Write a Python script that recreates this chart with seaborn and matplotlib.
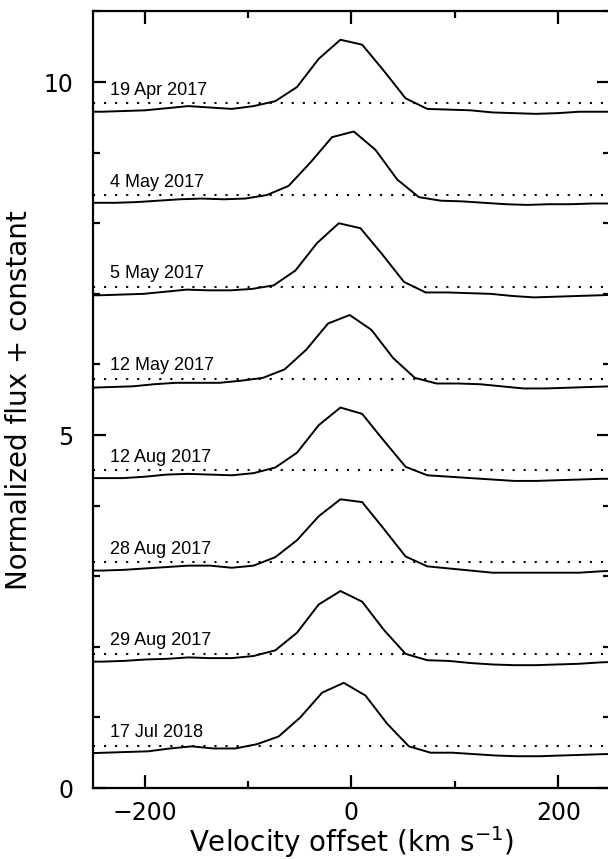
import matplotlib
matplotlib.use("Agg")
import matplotlib.pyplot as plt
from matplotlib.ticker import MultipleLocator
import numpy as np
import pandas as pd
import seaborn as sns

# ---- data -------------------------------------------------------------
dates = ["19 Apr 2017", "4 May 2017", "5 May 2017", "12 May 2017",
         "12 Aug 2017", "28 Aug 2017", "29 Aug 2017", "17 Jul 2018"]
offsets = [9.7, 8.4, 7.1, 5.8, 4.5, 3.2, 1.9, 0.6]

vel_grid_a = [-262.7, -241.7, -220.7, -199.7, -178.7, -157.7, -136.7, -115.7, -94.7,
              -73.7, -52.7, -31.7, -10.7, 10.3, 31.3, 52.3, 73.3, 94.3, 115.3,
              136.3, 157.3, 178.3, 199.3, 220.3, 241.3, 262.3]
vel_4may = [-270.8, -249.8, -228.8, -207.8, -186.8, -165.8, -144.8, -123.8, -102.8,
            -81.8, -60.8, -39.8, -18.8, 2.2, 23.2, 44.2, 65.2, 86.2, 107.2, 128.2,
            149.2, 170.2, 191.2, 212.2, 233.2, 254.2]
vel_5may = [-264.3, -243.3, -222.3, -201.3, -180.3, -159.3, -138.3, -117.3, -96.3,
            -75.3, -54.3, -33.3, -12.3, 8.7, 29.7, 50.7, 71.7, 92.7, 113.7, 134.7,
            155.7, 176.7, 197.7, 218.7, 239.7, 260.7]
vel_12may = [-253.7, -232.7, -211.7, -190.7, -169.7, -148.7, -127.7, -106.7, -85.7,
             -64.7, -43.7, -22.7, -1.7, 19.3, 40.3, 61.3, 82.3, 103.3, 124.3, 145.3,
             166.3, 187.3, 208.3, 229.3, 250.3, 271.3]
vel_17jul = [-259.5, -238.5, -217.5, -196.5, -175.5, -154.5, -133.5, -112.5, -91.5,
             -70.5, -49.5, -28.5, -7.5, 13.5, 34.5, 55.5, 76.5, 97.5, 118.5, 139.5,
             160.5, 181.5, 202.5, 223.5, 244.5, 265.5]

flux_19apr = [-0.12, -0.12, -0.11, -0.10, -0.07, -0.04, -0.06, -0.08, -0.04, 0.03, 0.23,
              0.63, 0.90, 0.83, 0.46, 0.07, -0.08, -0.09, -0.10, -0.13, -0.14, -0.15,
              -0.14, -0.12, -0.12, -0.12]
flux_4may = [-0.11, -0.11, -0.11, -0.10, -0.08, -0.06, -0.05, -0.06, -0.05, 0.00, 0.13,
             0.46, 0.82, 0.90, 0.64, 0.22, -0.03, -0.08, -0.09, -0.11, -0.13, -0.14,
             -0.13, -0.13, -0.12, -0.12]
flux_5may = [-0.12, -0.12, -0.11, -0.10, -0.07, -0.04, -0.05, -0.05, -0.03, 0.02, 0.23,
             0.62, 0.90, 0.83, 0.46, 0.07, -0.08, -0.08, -0.09, -0.10, -0.13, -0.15,
             -0.14, -0.13, -0.12, -0.11]
flux_12may = [-0.13, -0.12, -0.11, -0.08, -0.06, -0.06, -0.06, -0.03, 0.01, 0.13, 0.41,
              0.78, 0.90, 0.69, 0.29, 0.01, -0.07, -0.07, -0.08, -0.11, -0.14, -0.14,
              -0.13, -0.12, -0.11, -0.11]
flux_12aug = [-0.11, -0.11, -0.11, -0.09, -0.06, -0.05, -0.06, -0.07, -0.04, 0.04, 0.25,
              0.64, 0.89, 0.80, 0.42, 0.05, -0.07, -0.09, -0.11, -0.13, -0.15, -0.15,
              -0.14, -0.13, -0.12, -0.12]
flux_28aug = [-0.12, -0.12, -0.11, -0.09, -0.07, -0.05, -0.05, -0.08, -0.05, 0.07, 0.31,
              0.65, 0.89, 0.85, 0.47, 0.08, -0.06, -0.09, -0.12, -0.15, -0.15, -0.15,
              -0.15, -0.15, -0.13, -0.12]
flux_29aug = [-0.11, -0.11, -0.10, -0.08, -0.07, -0.05, -0.06, -0.06, -0.03, 0.05, 0.30,
              0.70, 0.89, 0.74, 0.34, 0.00, -0.09, -0.10, -0.13, -0.15, -0.16, -0.16,
              -0.15, -0.14, -0.12, -0.11]
flux_17jul = [-0.11, -0.10, -0.09, -0.08, -0.04, -0.01, -0.04, -0.04, 0.02, 0.13, 0.40,
              0.75, 0.89, 0.71, 0.31, -0.01, -0.10, -0.10, -0.12, -0.14, -0.15, -0.15,
              -0.14, -0.13, -0.12, -0.12]

velocities = [vel_grid_a, vel_4may, vel_5may, vel_12may,
              vel_grid_a, vel_grid_a, vel_grid_a, vel_17jul]
fluxes = [flux_19apr, flux_4may, flux_5may, flux_12may,
          flux_12aug, flux_28aug, flux_29aug, flux_17jul]

x_ticks_major = [-200, 0, 200]
y_ticks_major = [0, 5, 10]

# ---- build table --------------------------------------------------------
rows = []
for d, off, vv, ff in zip(dates, offsets, velocities, fluxes):
    for v, f in zip(vv, ff):
        rows.append({"date": d, "velocity": v, "flux": f + off})
df = pd.DataFrame(rows)

# ---- plot ----------------------------------------------------------------
sns.set_style("ticks")
plt.rcParams["font.family"] = ["DejaVu Sans"]
plt.rcParams["text.color"] = "black"
plt.rcParams["axes.labelcolor"] = "black"
plt.rcParams["xtick.color"] = "black"
plt.rcParams["ytick.color"] = "black"

fig = plt.figure(figsize=(6.08, 8.59), dpi=100)
ax = fig.add_axes([93 / 608, 71 / 859, 517 / 608, 776.5 / 859])

sns.lineplot(data=df, x="velocity", y="flux", units="date", estimator=None,
             color="black", linewidth=1.4, sort=False, ax=ax, legend=False)

for d, off in zip(dates, offsets):
    ax.plot([-250, 250], [off, off], color="black", linewidth=1.5,
            linestyle=(0, (1, 4.3)))
    ax.text(-234, off + 0.12, d, fontsize=13, family="Liberation Sans",
            ha="left", va="baseline", color="black")

ax.set_xlim(-250, 250)
ax.set_ylim(0, 11)
ax.set_xticks(x_ticks_major)
ax.set_yticks(y_ticks_major)
ax.set_xticklabels(["\u2212200", "0", "200"])
ax.xaxis.set_minor_locator(MultipleLocator(100))
ax.yaxis.set_minor_locator(MultipleLocator(1))

ax.tick_params(which="both", direction="in", top=True, right=True,
               width=1.6, color="black", labelcolor="black")
ax.tick_params(which="major", length=9.5, labelsize=17, pad=14)
ax.tick_params(which="minor", length=5)
ax.tick_params(axis="x", which="major", pad=9)

for s in ax.spines.values():
    s.set_linewidth(1.6)
    s.set_color("black")

ax.set_xlabel("Velocity offset (km s$^{-1}$)", fontsize=20, labelpad=0)
ax.set_ylabel("Normalized flux + constant", fontsize=20, labelpad=8)

fig.savefig("out.png", dpi=100)
